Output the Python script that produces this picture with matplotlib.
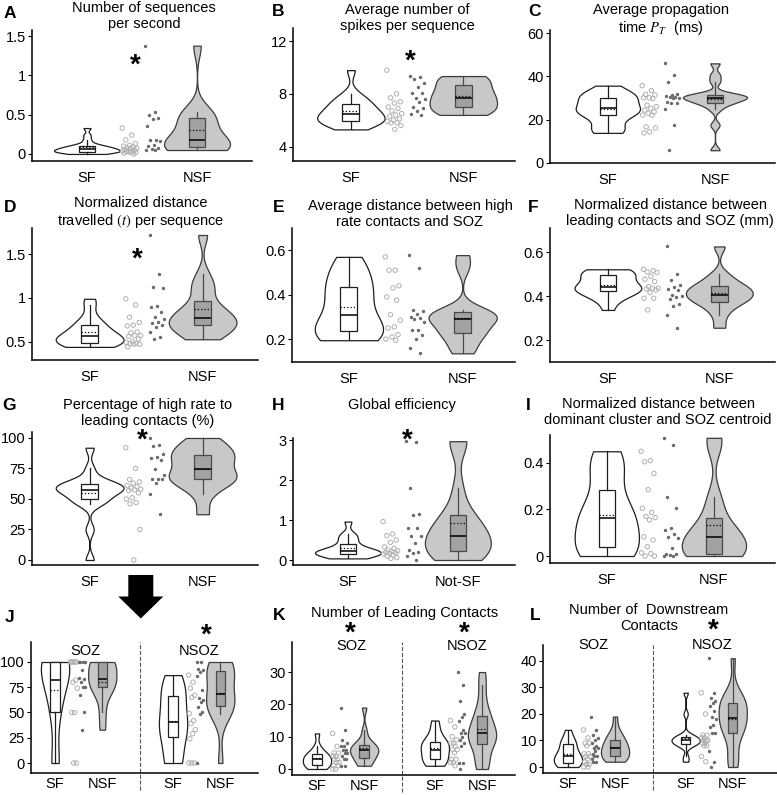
import numpy as np
import matplotlib
matplotlib.use("Agg")
import matplotlib.pyplot as plt
from matplotlib.patches import FancyArrow
from matplotlib.ticker import FuncFormatter

plt.rcParams['font.family'] = ['Liberation Sans', 'DejaVu Sans']
plt.rcParams['mathtext.fontset'] = 'stix'

W, H = 777, 795

# ---- data ----
# A  number of sequences per second
seq_sf = [0.33, 0.24, 0.18, 0.13, 0.11, 0.10, 0.09, 0.08, 0.07, 0.07, 0.06, 0.05, 0.04, 0.04, 0.03, 0.03, 0.02, 0.02, 0.01, 0.0]
seq_nsf = [1.38, 0.54, 0.50, 0.46, 0.45, 0.35, 0.18, 0.18, 0.17, 0.11, 0.10, 0.08, 0.06, 0.05, 0.05]
# B  spikes per sequence
spk_sf = [9.8, 8.0, 7.7, 7.4, 7.3, 7.0, 6.9, 6.7, 6.5, 6.4, 6.3, 6.1, 6.0, 5.9, 5.8, 5.8, 5.6, 5.3]
spk_nsf = [9.35, 9.3, 9.15, 8.8, 8.5, 8.1, 8.1, 7.7, 7.6, 7.4, 7.0, 6.95, 6.7, 6.5, 6.4]
# C  propagation time
prop_sf = [35.7, 33.4, 31.7, 31.4, 30.1, 30.1, 29.8, 26.7, 26.0, 25.2, 24.4, 23.6, 22.9, 22.1, 22.1, 16.7, 16.2, 14.4, 13.9]
prop_nsf = [46, 40.6, 37.5, 32, 31.4, 30.9, 30.6, 30.3, 30.0, 29.8, 28.3, 27.5, 27.5, 24.7, 17.5, 5.9]
# D  distance travelled
trav_sf = [0.99, 0.92, 0.78, 0.72, 0.69, 0.68, 0.61, 0.60, 0.57, 0.57, 0.56, 0.53, 0.50, 0.49, 0.48, 0.48, 0.47, 0.47, 0.44]
trav_nsf = [1.72, 1.27, 1.12, 1.11, 0.91, 0.90, 0.84, 0.785, 0.755, 0.72, 0.71, 0.69, 0.67, 0.61, 0.557, 0.527]
# E  high rate contacts to SOZ
hr_sf = [0.57, 0.51, 0.51, 0.44, 0.43, 0.39, 0.375, 0.31, 0.285, 0.255, 0.25, 0.22, 0.21, 0.2, 0.195]
hr_nsf = [0.578, 0.52, 0.33, 0.327, 0.315, 0.30, 0.297, 0.29, 0.278, 0.24, 0.24, 0.218, 0.2, 0.158, 0.136]
# F  leading contacts to SOZ
lead_sf = [0.522, 0.516, 0.51, 0.507, 0.49, 0.477, 0.466, 0.443, 0.436, 0.436, 0.433, 0.428, 0.416, 0.39, 0.39, 0.337]
lead_nsf = [0.626, 0.50, 0.474, 0.451, 0.44, 0.431, 0.428, 0.405, 0.40, 0.395, 0.386, 0.364, 0.355, 0.314, 0.256]
# G  percentage high rate to leading
pct_sf = [92, 75, 66, 64, 63, 61, 60, 59, 58, 57.5, 57, 55, 51, 50, 47, 46, 25, 0]
pct_nsf = [100, 94.5, 93.7, 87, 84.4, 83.6, 82.2, 74.5, 69.9, 66.6, 66.6, 66.6, 63, 54, 37.5]
# H  global efficiency
geff_sf = [0.96, 0.65, 0.61, 0.50, 0.44, 0.33, 0.29, 0.25, 0.23, 0.21, 0.19, 0.18, 0.17, 0.15, 0.125, 0.10, 0.06, 0.04]
geff_nsf = [2.97, 2.96, 1.79, 1.14, 1.125, 0.79, 0.79, 0.61, 0.61, 0.42, 0.25, 0.21, 0.17, 0.11, 0.0]
# I  dominant cluster to SOZ centroid
clus_sf = [0.45, 0.41, 0.405, 0.355, 0.285, 0.205, 0.187, 0.17, 0.165, 0.155, 0.083, 0.069, 0.04, 0.014, 0.01, 0.0, 0.0]
clus_nsf = [0.508, 0.479, 0.253, 0.206, 0.12, 0.112, 0.095, 0.083, 0.076, 0.033, 0.009, 0.007, 0.004, 0.0, 0.0]
# J  (SOZ / NSOZ)
j_soz_sf = [100, 100, 100, 100, 100, 100, 82, 80, 74, 50, 50, 0, 0]
j_soz_nsf = [100, 100, 100, 100, 92, 84, 83, 80, 75, 75, 67, 50, 33]
j_nsoz_sf = [87, 80, 74, 67, 65, 49, 42, 39, 33, 29, 24, 0, 0, 0]
j_nsoz_nsf = [100, 100, 93, 92, 90, 86, 72, 64, 62, 60, 55, 50, 49, 0]
# K  number of leading contacts
k_soz_sf = [11, 7, 5, 5, 4, 4, 3, 3, 2, 2, 1, 1, 0, 0]
k_soz_nsf = [19, 12, 9, 8, 7, 7, 6, 6, 5, 5, 4, 3, 3, 1, 1]
k_nsoz_sf = [15, 13, 10, 9, 8, 8, 7, 6, 6, 5, 3, 3, 2, 2, 1]
k_nsoz_nsf = [30, 26, 21, 17, 16, 15, 12, 11, 11, 10, 9, 8, 7, 2, 2, 0]
# L  number of downstream contacts
l_soz_sf = [14, 11, 9, 9, 8, 5, 5, 4, 4, 3, 2, 1, 1, 0, 0]
l_soz_nsf = [19, 14, 12, 11, 10, 9, 8, 7, 7, 6, 5, 4, 4, 3, 2, 2]
l_nsoz_sf = [28, 20, 12, 12, 11, 11, 10, 10, 10, 9, 9, 8, 8, 4, 2]
l_nsoz_nsf = [41, 28, 26, 25, 24, 23, 21, 19, 18, 16, 15, 13, 13, 6, 2, 0]

fig = plt.figure(figsize=(W / 100, H / 100), dpi=100)


def px_ax(l, r, t, b):
    return fig.add_axes([l / W, 1 - b / H, (r - l) / W, (b - t) / H])


def ftext(x, y, s, **kw):
    kw.setdefault('ha', 'center')
    kw.setdefault('va', 'center')
    fig.text(x / W, 1 - y / H, s, **kw)


def star(x, y, size=20):
    # put the ink centre of the asterisk at (x, y) pixels
    em = size * 100 / 72
    fig.text(x / W, 1 - (y + 0.43 * em) / H, '*', ha='center', va='baseline',
             fontsize=size, fontweight='bold')


def nrd0(vals):
    # R's default bandwidth, expressed as a factor of the std
    v = np.asarray(vals, float)
    sd = v.std(ddof=1)
    q75, q25 = np.percentile(v, [75, 25])
    lo = min(sd, (q75 - q25) / 1.34)
    if lo <= 0:
        lo = sd
    return 0.9 * lo * len(v) ** -0.2 / sd


def violin_box(ax, vals, pos, nsf, vw=0.6, bw=0.15):
    parts = ax.violinplot([vals], positions=[pos], widths=vw, showextrema=False,
                          bw_method=nrd0(vals))
    body = parts['bodies'][0]
    body.set_facecolor('#c8c8c8' if nsf else 'white')
    body.set_edgecolor('#3c3c3c' if nsf else '#1e1e1e')
    body.set_linewidth(0.9)
    body.set_alpha(1)
    body.set_zorder(1)
    ec = '#4a4a4a' if nsf else '#1e1e1e'
    ax.boxplot([vals], positions=[pos], widths=bw, patch_artist=True, showfliers=False,
               showcaps=False, showmeans=True, meanline=True, manage_ticks=False,
               boxprops=dict(facecolor='#a2a2a2' if nsf else 'white', edgecolor=ec, linewidth=0.9),
               whiskerprops=dict(color=ec, linewidth=0.9),
               medianprops=dict(color='black', linewidth=1.1),
               meanprops=dict(color='black', linestyle=':', linewidth=0.9),
               zorder=3)


def strip(ax, vals, pos, nsf, lo, wid):
    fr = (np.arange(len(vals)) * 0.618) % 1
    x = pos + lo + wid * fr
    if nsf:
        ax.scatter(x, vals, s=6, c='#6b6b6b', lw=0, zorder=2)
    else:
        ax.scatter(x, vals, s=10, facecolors='none', edgecolors='#b0b0b0', lw=0.7, zorder=2)


def style(ax, xlim, ylim, yticks, xt, xl, xpad=7):
    ax.set_xlim(xlim)
    ax.set_ylim(ylim)
    for s in ['top', 'right']:
        ax.spines[s].set_visible(False)
    for s in ['left', 'bottom']:
        ax.spines[s].set_linewidth(1.1)
    ax.set_yticks(yticks)
    ax.yaxis.set_major_formatter(FuncFormatter(lambda v, p: '%g' % v))
    ax.tick_params(axis='y', length=3, width=0.8, labelsize=10.5, pad=1.5)
    ax.set_xticks(xt)
    ax.set_xticklabels(xl)
    ax.tick_params(axis='x', length=0, labelsize=10.5, pad=xpad)
    ax.patch.set_alpha(0)


def two_group(rect, sf, nsf, xlim, ylim, yticks, xl=('SF', 'NSF')):
    ax = px_ax(*rect)
    strip(ax, sf, 1, False, 0.32, 0.14)
    strip(ax, nsf, 2, True, -0.47, 0.14)
    violin_box(ax, sf, 1, False)
    violin_box(ax, nsf, 2, True)
    style(ax, xlim, ylim, yticks, [1, 2], list(xl))
    return ax


def four_group(rect, groups, xlim, ylim, yticks):
    ax = px_ax(*rect)
    pos = [1, 2, 3.5, 4.5]
    for i, (vals, p) in enumerate(zip(groups, pos)):
        nsf = i % 2 == 1
        if nsf:
            strip(ax, vals, p, True, -0.5, 0.15)
        else:
            strip(ax, vals, p, False, 0.33, 0.15)
        violin_box(ax, vals, p, nsf, vw=0.6, bw=0.2)
    ax.axvline(2.8, ymin=-0.13, ymax=1.0, clip_on=False, color='#555555',
               linestyle='--', linewidth=0.8)
    style(ax, xlim, ylim, yticks, pos, ['SF', 'NSF', 'SF', 'NSF'], xpad=3)
    return ax


# row 1
two_group((32, 252, 30, 161), seq_sf, seq_nsf, (0.5, 2.5), (-0.09, 1.58), [0, 0.5, 1, 1.5])
two_group((293, 515, 28, 161), spk_sf, spk_nsf, (0.485, 2.46), (2.9, 13.0), [4, 8, 12])
two_group((550, 775, 30, 163), prop_sf, prop_nsf, (0.46, 2.56), (0, 61.4), [0, 20, 40, 60])
# row 2
two_group((32, 258, 228, 360), trav_sf, trav_nsf, (0.49, 2.49), (0.29, 1.80), [0.5, 1, 1.5])
two_group((292, 515, 228, 362), hr_sf, hr_nsf, (0.5, 2.46), (0.097, 0.70), [0.2, 0.4, 0.6])
two_group((550, 775, 228, 362), lead_sf, lead_nsf, (0.48, 2.5), (0.1, 0.71), [0.2, 0.4, 0.6])
# row 3
two_group((32, 258, 432, 565), pct_sf, pct_nsf, (0.49, 2.49), (-4.1, 104.9), [0, 25, 50, 75, 100])
two_group((293, 515, 438, 565), geff_sf, geff_nsf, (0.5, 2.52), (-0.125, 3.05), [0, 1, 2, 3],
          xl=('SF', 'Not-SF'))
two_group((550, 775, 435, 563), clus_sf, clus_nsf, (0.47, 2.57), (-0.03, 0.52), [0, 0.2, 0.4])
# row 4
four_group((31, 258, 642, 773), [j_soz_sf, j_soz_nsf, j_nsoz_sf, j_nsoz_nsf],
           (0.49, 5.3), (-9.9, 119.8), [0, 25, 50, 75, 100])
four_group((292, 515, 642, 775), [k_soz_sf, k_soz_nsf, k_nsoz_sf, k_nsoz_nsf],
           (0.47, 5.2), (-1.86, 39.3), [0, 10, 20, 30])
four_group((543, 777, 645, 773), [l_soz_sf, l_soz_nsf, l_nsoz_sf, l_nsoz_nsf],
           (0.47, 5.44), (-2.26, 46), [0, 10, 20, 30, 40])

# titles
tfs = 10.5
ftext(144, 16, 'Number of sequences\nper second', fontsize=tfs)
ftext(407, 18, 'Average number of\nspikes per sequence', fontsize=tfs)
ftext(661, 20, 'Average propagation\ntime $P_T$  (ms)', fontsize=tfs)
ftext(141, 213, 'Normalized distance\ntravelled $(t)$ per sequence', fontsize=tfs)
ftext(410, 214, 'Average distance between high\nrate contacts and SOZ', fontsize=tfs)
ftext(670, 213, 'Normalized distance between\nleading contacts and SOZ (mm)', fontsize=tfs)
ftext(148, 413, 'Percentage of high rate to\nleading contacts (%)', fontsize=tfs)
ftext(402, 405, 'Global efficiency', fontsize=tfs)
ftext(658, 412, 'Normalized distance between\ndominant cluster and SOZ centroid', fontsize=tfs)
ftext(405, 613, 'Number of Leading Contacts', fontsize=tfs)
ftext(649, 618, 'Number of  Downstream\nContacts', fontsize=tfs)

# SOZ / NSOZ labels
ftext(85, 651, 'SOZ', fontsize=tfs)
ftext(199, 651, 'NSOZ', fontsize=tfs)
ftext(351, 646, 'SOZ', fontsize=tfs)
ftext(467, 646, 'NSOZ', fontsize=tfs)
ftext(593, 645, 'SOZ', fontsize=tfs)
ftext(712, 645, 'NSOZ', fontsize=tfs)

# panel letters
for lab, x, y in [('A', 4, 13), ('B', 272, 11), ('C', 528, 12), ('D', 4, 208), ('E', 273, 208),
                  ('F', 528, 208), ('G', 2, 405), ('H', 272, 405), ('I', 526, 405),
                  ('J', 5, 617), ('K', 273, 615), ('L', 530, 615)]:
    ftext(x, y, lab, fontsize=12.5, fontweight='bold', ha='left')

# significance stars
for x, y in [(135, 61), (410, 57), (137, 255), (142, 436), (407, 436),
             (206, 631), (350, 629), (464, 629), (713, 626)]:
    star(x, y)

# big arrow between rows
fig.add_artist(FancyArrow(1.408, (H - 575) / 100, 0, -0.435, width=0.25, head_width=0.45,
                          head_length=0.22, length_includes_head=True,
                          transform=fig.dpi_scale_trans, color='black', lw=0))

fig.savefig('out.png', dpi=100)
